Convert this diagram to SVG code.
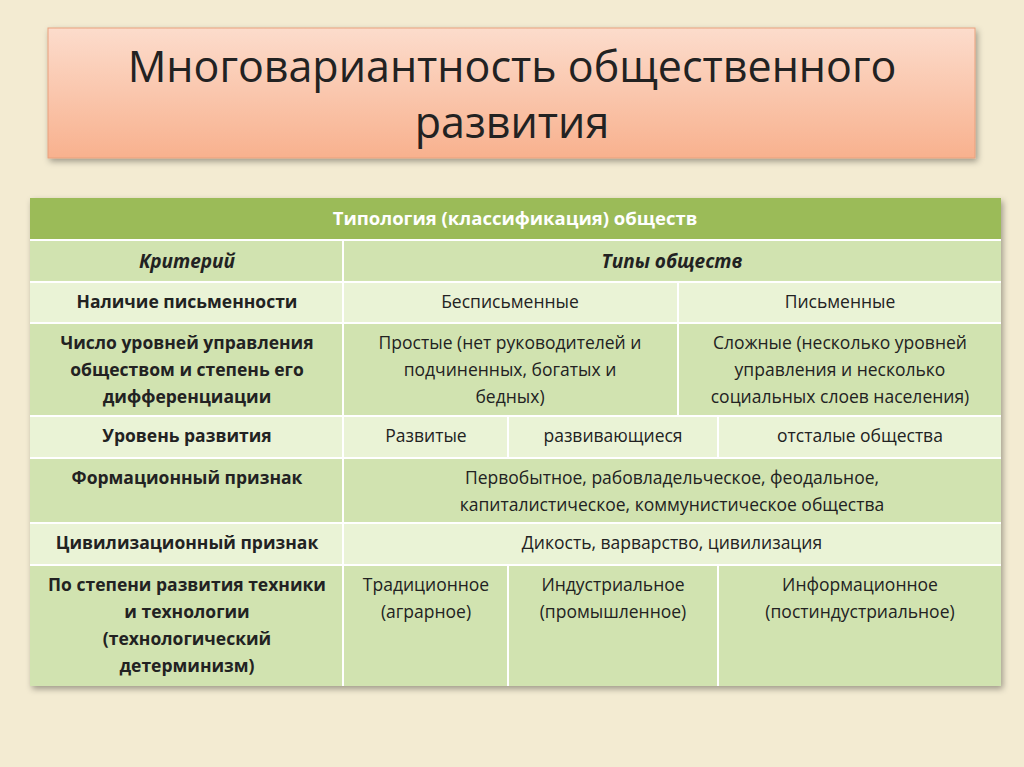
<svg xmlns="http://www.w3.org/2000/svg" width="1024" height="767" viewBox="0 0 1024 767">
<defs>
<linearGradient id="tg" x1="0" y1="0" x2="0" y2="1"><stop offset="0" stop-color="#fcdccc"/><stop offset="1" stop-color="#f8b18e"/></linearGradient>
<filter id="sh" x="-5%" y="-5%" width="110%" height="115%"><feDropShadow dx="2" dy="3" stdDeviation="3" flood-opacity="0.35"/></filter>
</defs>
<style>
text{font-family:"Open Sans","Liberation Sans",sans-serif;fill:#222;}
.t{font-size:17.5px;text-anchor:middle;}
.b{font-weight:bold;}
.hd{font-size:19px;font-style:italic;font-weight:bold;text-anchor:middle;}
.ln{stroke:#fff;stroke-width:2;}
</style>
<rect width="1024" height="767" fill="#f3ebd2"/>
<g id="title">
<rect x="48" y="28" width="927" height="130" fill="url(#tg)" stroke="#e8a07c" filter="url(#sh)"/>
<text x="512" y="82" style="font-size:43px;text-anchor:middle;fill:#222">Многовариантность общественного</text>
<text x="512" y="138" style="font-size:43px;text-anchor:middle;fill:#222">развития</text>
</g>
<g id="table">
<g filter="url(#sh)">
<rect x="30" y="198" width="971" height="42" fill="#9bbb59"/>
<rect x="30" y="240" width="971" height="42" fill="#d1e3b0"/>
<rect x="30" y="282" width="971" height="41" fill="#eaf3d6"/>
<rect x="30" y="323" width="971" height="93" fill="#d1e3b0"/>
<rect x="30" y="416" width="971" height="42" fill="#eaf3d6"/>
<rect x="30" y="458" width="971" height="65" fill="#d1e3b0"/>
<rect x="30" y="523" width="971" height="42" fill="#eaf3d6"/>
<rect x="30" y="565" width="971" height="121" fill="#d1e3b0"/>
</g>
<g id="grid">
<line class="ln" x1="30" y1="240" x2="1001" y2="240"/>
<line class="ln" x1="30" y1="282" x2="1001" y2="282"/>
<line class="ln" x1="30" y1="323" x2="1001" y2="323"/>
<line class="ln" x1="30" y1="416" x2="1001" y2="416"/>
<line class="ln" x1="30" y1="458" x2="1001" y2="458"/>
<line class="ln" x1="30" y1="523" x2="1001" y2="523"/>
<line class="ln" x1="30" y1="565" x2="1001" y2="565"/>
<line class="ln" x1="343" y1="240" x2="343" y2="686"/>
<line class="ln" x1="678" y1="282" x2="678" y2="416"/>
<line class="ln" x1="508" y1="416" x2="508" y2="458"/>
<line class="ln" x1="718" y1="416" x2="718" y2="458"/>
<line class="ln" x1="508" y1="565" x2="508" y2="686"/>
<line class="ln" x1="718" y1="565" x2="718" y2="686"/>
</g>
<text class="b" x="515" y="225" style="font-size:18.5px;text-anchor:middle;fill:#fff">Типология (классификация) обществ</text>
<text class="hd" x="187" y="268">Критерий</text>
<text class="hd" x="672" y="268">Типы обществ</text>
<text class="t b" x="187" y="308">Наличие письменности</text>
<text class="t" x="510" y="308">Бесписьменные</text>
<text class="t" x="840" y="308">Письменные</text>
<text class="t b" x="187" y="349">Число уровней управления</text>
<text class="t b" x="187" y="376">обществом и степень его</text>
<text class="t b" x="187" y="403">дифференциации</text>
<text class="t" x="510" y="349">Простые (нет руководителей и</text>
<text class="t" x="510" y="376">подчиненных, богатых и</text>
<text class="t" x="510" y="403">бедных)</text>
<text class="t" x="840" y="349">Сложные (несколько уровней</text>
<text class="t" x="840" y="376">управления и несколько</text>
<text class="t" x="840" y="403">социальных слоев населения)</text>
<text class="t b" x="187" y="442">Уровень развития</text>
<text class="t" x="426" y="442">Развитые</text>
<text class="t" x="613" y="442">развивающиеся</text>
<text class="t" x="860" y="442">отсталые общества</text>
<text class="t b" x="187" y="484">Формационный признак</text>
<text class="t" x="672" y="484">Первобытное, рабовладельческое, феодальное,</text>
<text class="t" x="672" y="511">капиталистическое, коммунистическое общества</text>
<text class="t b" x="187" y="549">Цивилизационный признак</text>
<text class="t" x="672" y="549">Дикость, варварство, цивилизация</text>
<text class="t b" x="187" y="591">По степени развития техники</text>
<text class="t b" x="187" y="618">и технологии</text>
<text class="t b" x="187" y="645">(технологический</text>
<text class="t b" x="187" y="672">детерминизм)</text>
<text class="t" x="426" y="591">Традиционное</text>
<text class="t" x="426" y="618">(аграрное)</text>
<text class="t" x="613" y="591">Индустриальное</text>
<text class="t" x="613" y="618">(промышленное)</text>
<text class="t" x="860" y="591">Информационное</text>
<text class="t" x="860" y="618">(постиндустриальное)</text>
</g>
</svg>
